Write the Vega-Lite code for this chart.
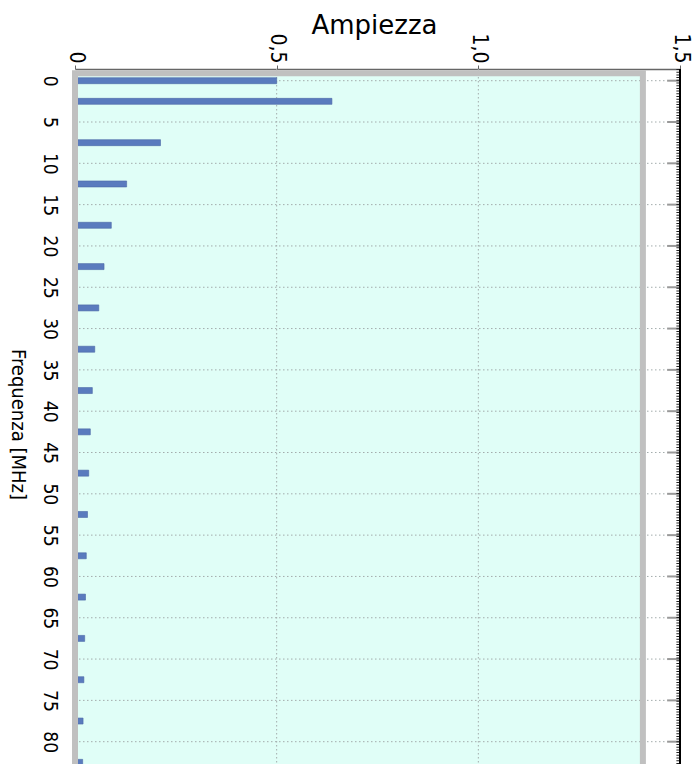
{
  "$schema": "https://vega.github.io/schema/vega-lite/v6.json",
  "width": 605,
  "height": 695,
  "autosize": {"type": "none"},
  "padding": {"left": 75, "top": 69, "right": 19, "bottom": 0},
  "background": "white",
  "config": {"view": {"stroke": null}},
  "datasets": {
    "spectrum": [
      {"f": 0, "a": 0.5}, {"f": 2.5, "a": 0.637}, {"f": 7.5, "a": 0.212}, {"f": 12.5, "a": 0.128},
      {"f": 17.5, "a": 0.09}, {"f": 22.5, "a": 0.072}, {"f": 27.5, "a": 0.059}, {"f": 32.5, "a": 0.049},
      {"f": 37.5, "a": 0.043}, {"f": 42.5, "a": 0.038}, {"f": 47.5, "a": 0.034}, {"f": 52.5, "a": 0.031},
      {"f": 57.5, "a": 0.028}, {"f": 62.5, "a": 0.026}, {"f": 67.5, "a": 0.024}, {"f": 72.5, "a": 0.022},
      {"f": 77.5, "a": 0.02}, {"f": 82.5, "a": 0.019}
    ],
    "hgrid": [
      {"f": 0}, {"f": 5}, {"f": 10}, {"f": 15}, {"f": 20}, {"f": 25}, {"f": 30}, {"f": 35}, {"f": 40},
      {"f": 45}, {"f": 50}, {"f": 55}, {"f": 60}, {"f": 65}, {"f": 70}, {"f": 75}, {"f": 80}
    ],
    "vgrid": [{"a": 0.5}, {"a": 1.0}],
    "one": [{}]
  },
  "layer": [
    {
      "data": {"name": "one"},
      "mark": {"type": "rect", "fill": "#e0fef7", "stroke": null},
      "encoding": {
        "x": {"datum": 0, "type": "quantitative", "scale": {"domain": [0, 1.5], "nice": false, "zero": false, "padding": 0}},
        "x2": {"datum": 1.408},
        "y": {"datum": -0.9, "type": "quantitative", "scale": {"domain": [-1.415, 82.7], "nice": false, "zero": false, "reverse": true, "padding": 0}},
        "y2": {"datum": 100}
      }
    },
    {
      "data": {"name": "hgrid"},
      "mark": {"type": "rule", "color": "#a3acac", "strokeWidth": 1, "strokeDash": [1.5, 2.5]},
      "encoding": {
        "y": {"field": "f", "type": "quantitative"},
        "x": {"datum": 0, "type": "quantitative"},
        "x2": {"datum": 1.468}
      }
    },
    {
      "data": {"name": "vgrid"},
      "mark": {"type": "rule", "color": "#a3acac", "strokeWidth": 1, "strokeDash": [1.5, 2.5]},
      "encoding": {
        "x": {"field": "a", "type": "quantitative"}
      }
    },
    {
      "data": {"name": "spectrum"},
      "mark": {"type": "bar", "orient": "horizontal", "size": 6, "color": "#5a7bbe", "stroke": "#4b68a6", "strokeWidth": 0.6},
      "encoding": {
        "y": {
          "field": "f", "type": "quantitative",
          "scale": {"domain": [-1.415, 82.7], "nice": false, "zero": false, "reverse": true, "padding": 0},
          "axis": {
            "orient": "left", "values": [0,5,10,15,20,25,30,35,40,45,50,55,60,65,70,75,80],
            "grid": false, "ticks": false, "domain": false,
            "labelAngle": 90, "labelAlign": "center", "labelBaseline": "top", "labelPadding": 17,
            "labelFont": "DejaVu Sans Condensed, Liberation Sans, sans-serif", "labelFontSize": 19, "labelColor": "#000",
            "title": "Frequenza [MHz]", "titleAngle": 90, "titleX": -58, "titleY": 355,
            "titleAlign": "center", "titleBaseline": "middle",
            "titleFont": "DejaVu Sans Condensed, Liberation Sans, sans-serif", "titleFontSize": 20, "titleFontWeight": "normal", "titleColor": "#000"
          }
        },
        "x": {
          "field": "a", "type": "quantitative",
          "scale": {"domain": [0, 1.5], "nice": false, "zero": false, "padding": 0},
          "axis": {
            "orient": "top", "values": [0, 0.5, 1.0, 1.5], "grid": false,
            "labelExpr": "datum.value == 0 ? '0' : replace(format(datum.value, '.1f'), '.', ',')",
            "labelAngle": 90, "labelAlign": "right", "labelBaseline": "middle", "labelPadding": 2,
            "labelFont": "DejaVu Sans Condensed, Liberation Sans, sans-serif", "labelFontSize": 21, "labelColor": "#000",
            "tickSize": 4, "tickColor": "#666", "domainColor": "#666", "domainWidth": 1.5,
            "title": "Ampiezza", "titleX": 299, "titleY": -36, "titleAlign": "center", "titleBaseline": "alphabetic",
            "titleFont": "DejaVu Sans", "titleFontSize": 26, "titleFontWeight": "normal", "titleColor": "#000"
          }
        }
      }
    },
    {
      "data": {"name": "one"},
      "mark": {"type": "rect", "fill": "transparent", "stroke": "#c0c0c0", "strokeWidth": 6},
      "encoding": {
        "x": {"datum": 0, "type": "quantitative"},
        "x2": {"datum": 1.408},
        "y": {"datum": -0.9, "type": "quantitative"},
        "y2": {"datum": 100}
      }
    },
    {
      "data": {"name": "hgrid"},
      "mark": {"type": "rule", "color": "#999999", "strokeWidth": 2},
      "encoding": {
        "y": {"field": "f", "type": "quantitative"},
        "x": {"datum": 1.468, "type": "quantitative"},
        "x2": {"datum": 1.5}
      }
    },
    {
      "data": {"name": "one"},
      "mark": {"type": "rule", "color": "#222222", "strokeWidth": 4, "strokeDash": [1, 1.7]},
      "encoding": {
        "x": {"datum": 1.496, "type": "quantitative"}
      }
    },
    {
      "data": {"name": "one"},
      "mark": {"type": "rule", "color": "#000000", "strokeWidth": 2},
      "encoding": {
        "x": {"datum": 1.5, "type": "quantitative"}
      }
    }
  ]
}
